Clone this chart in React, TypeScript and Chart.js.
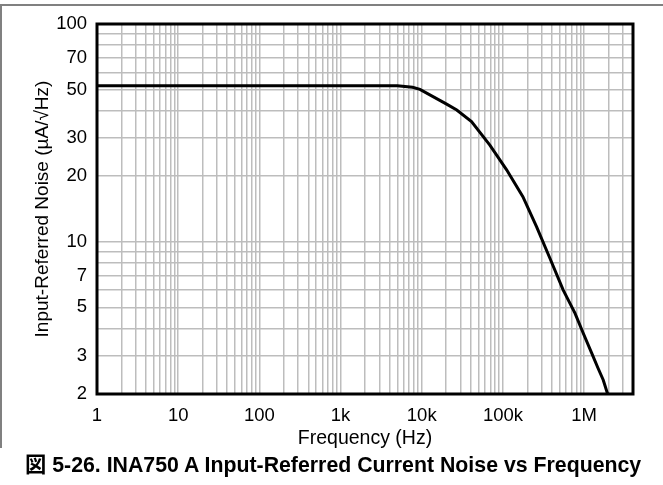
import React, { useEffect, useRef } from "react";
import { Chart, registerables } from "chart.js";

Chart.register(...registerables);

// Data
const freqHz = [1, 3000, 5000, 7700, 9500, 20000, 27000, 41000, 69000, 111000, 176000, 260000, 379000, 553000, 771000, 976000, 1240000, 1490000, 1720000, 1930000, 1980000];
const noiseUA = [52, 52, 52, 51.2, 50.1, 43.0, 40.3, 35.6, 27.8, 21.4, 16.1, 11.7, 8.4, 6.0, 4.7, 3.8, 3.08, 2.62, 2.32, 2.02, 2.0];

const xGridValues = [1, 2, 3, 4, 5, 6, 7, 8, 9, 10, 20, 30, 40, 50, 60, 70, 80, 90, 100, 200, 300, 400, 500, 600, 700, 800, 900, 1000, 2000, 3000, 4000, 5000, 6000, 7000, 8000, 9000, 10000, 20000, 30000, 40000, 50000, 60000, 70000, 80000, 90000, 100000, 200000, 300000, 400000, 500000, 600000, 700000, 800000, 900000, 1000000, 2000000, 3000000, 4000000];
const xTickValues = [1, 10, 100, 1000, 10000, 100000, 1000000];
const xTickLabels = ["1", "10", "100", "1k", "10k", "100k", "1M"];

const yGridValues = [2, 3, 4, 5, 6, 7, 8, 9, 10, 20, 30, 40, 50, 60, 70, 80, 90, 100];
const yTickValues = [2, 3, 5, 7, 10, 20, 30, 50, 70, 100];
const yTickLabels = ["2", "3", "5", "7", "10", "20", "30", "50", "70", "100"];

const xTitle = "Frequency (Hz)";
const yTitle = "Input-Referred Noise (\u00B5A/\u221AHz)";
const caption = "\u56F3 5-26. INA750 A Input-Referred Current Noise vs Frequency";

const FONT = "'Liberation Sans', Arial, Helvetica, sans-serif";

const frameBorder = {
  id: "frameBorder",
  afterDraw(chart: any) {
    const { ctx, chartArea } = chart;
    const { left, top, right, bottom } = chartArea;
    ctx.save();
    ctx.lineWidth = 3;
    ctx.strokeStyle = "#000";
    ctx.strokeRect(left, top, right - left, bottom - top);
    ctx.restore();
  },
};

export default function App() {
  const ref = useRef<HTMLCanvasElement | null>(null);

  useEffect(() => {
    if (!ref.current) return;
    const chart = new Chart(ref.current, {
      type: "line",
      data: {
        datasets: [
          {
            data: freqHz.map((f, i) => ({ x: f, y: noiseUA[i] })),
            borderColor: "#000",
            borderWidth: 3,
            pointRadius: 0,
            tension: 0,
            fill: false,
          },
        ],
      },
      options: {
        responsive: false,
        animation: false,
        devicePixelRatio: 1,
        layout: { padding: { left: 0, right: 30, top: 24, bottom: 0 } },
        plugins: { legend: { display: false }, tooltip: { enabled: false } },
        scales: {
          x: {
            type: "logarithmic",
            min: 1,
            max: 4000000,
            afterBuildTicks: (scale: any) => {
              scale.ticks = xGridValues.map((v) => ({ value: v }));
            },
            afterFit: (scale: any) => {
              scale.height = 91;
            },
            ticks: {
              autoSkip: false,
              maxRotation: 0,
              minRotation: 0,
              padding: 11,
              color: "#000",
              font: { family: FONT, size: 18.5 },
              callback: (value: any) => {
                const idx = xTickValues.indexOf(Number(value));
                return idx >= 0 ? xTickLabels[idx] : "";
              },
            },
            grid: { color: "#bdbdbd", lineWidth: 1.5, drawTicks: false },
            border: { display: false },
            title: {
              display: true,
              text: xTitle,
              color: "#000",
              font: { family: FONT, size: 19.5 },
              padding: { top: 0, bottom: 35 },
            },
          },
          y: {
            type: "logarithmic",
            min: 2,
            max: 100,
            afterBuildTicks: (scale: any) => {
              scale.ticks = yGridValues.map((v) => ({ value: v }));
            },
            afterFit: (scale: any) => {
              scale.width = 97;
            },
            ticks: {
              autoSkip: false,
              padding: 10,
              color: "#000",
              font: { family: FONT, size: 18.5 },
              callback: (value: any) => {
                const idx = yTickValues.indexOf(Number(value));
                return idx >= 0 ? yTickLabels[idx] : "";
              },
            },
            grid: { color: "#bdbdbd", lineWidth: 1.5, drawTicks: false },
            border: { display: false },
            title: {
              display: true,
              text: yTitle,
              color: "#000",
              font: { family: FONT, size: 19 },
              padding: { top: 31, bottom: 0 },
            },
          },
        },
      },
      plugins: [frameBorder],
    } as any);
    return () => chart.destroy();
  }, []);

  return (
    <div style={{ position: "absolute", left: 0, top: 0, width: 663, height: 485, background: "#fff", overflow: "hidden" }}>
      <div style={{ position: "absolute", left: 0, top: 4, width: 663, height: 2, background: "#808080" }} />
      <div style={{ position: "absolute", left: 0, top: 4, width: 2, height: 444, background: "#808080" }} />
      <canvas ref={ref} width={663} height={485} style={{ position: "absolute", left: 0, top: 0, display: "block" }} />
      <div
        style={{
          position: "absolute",
          left: 25,
          top: 453,
          whiteSpace: "nowrap",
          fontFamily: "'Liberation Sans', Arial, 'Noto Sans CJK JP', sans-serif",
          fontWeight: "bold",
          fontSize: 21.3,
          lineHeight: "25px",
          color: "#000",
        }}
      >
        {caption}
      </div>
    </div>
  );
}
